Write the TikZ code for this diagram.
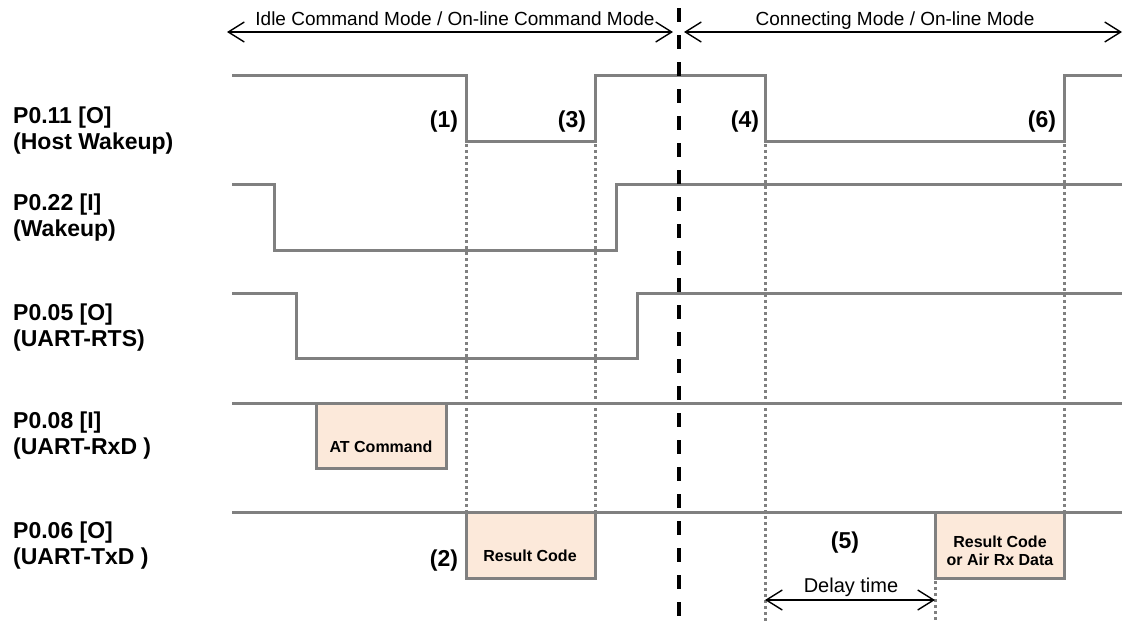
\documentclass[tikz,border=0pt]{standalone}
\usepackage{fontspec}
\setmainfont{Liberation Sans}
\usetikzlibrary{arrows.meta}
\definecolor{sig}{RGB}{128,128,128}
\definecolor{peach}{RGB}{252,233,218}
\tikzset{vbarb/.tip={Straight Barb[length=16pt,width=20pt]}}
\begin{document}
\begin{tikzpicture}[x=1pt,y=-1pt,
  sigline/.style={draw=sig,line width=3pt,line join=miter},
  dotline/.style={draw=sig,line width=3pt,dash pattern=on 3pt off 3pt},
  modearrow/.style={draw=black,line width=1.4pt,{vbarb}-{vbarb}},
  pinlabel/.style={font=\fontsize{23}{27}\selectfont\bfseries,anchor=base west,inner sep=0pt},
  evtlabel/.style={font=\fontsize{23}{27}\selectfont\bfseries,anchor=base,inner sep=0pt},
  databox/.style={draw=sig,fill=peach,line width=3pt},
  boxtext/.style={font=\fontsize{16}{18}\selectfont\bfseries,anchor=base,inner sep=0pt},
  modetext/.style={font=\fontsize{19}{22}\selectfont,anchor=base,inner sep=0pt},
  divider/.style={draw=black,line width=3.5pt,dash pattern=on 14pt off 13pt}]
\useasboundingbox (0,0) rectangle (1125,622);

% mode arrows
\coordinate (m1a) at (227,32);
\coordinate (m1b) at (673,32);
\coordinate (m2a) at (684,32);
\coordinate (m2b) at (1122,32);
\draw[modearrow] (m1a) -- (m1b);
\draw[modearrow] (m2a) -- (m2b);
\node[modetext] (mt1) at (455,25) {Idle Command Mode / On-line Command Mode};
\node[modetext] (mt2) at (895,25) {Connecting Mode / On-line Mode};

% pin labels
\node[pinlabel] (p1a) at (13,123) {P0.11 [O]};
\node[pinlabel] (p1b) at (13,149) {(Host Wakeup)};
\node[pinlabel] (p2a) at (13,210) {P0.22 [I]};
\node[pinlabel] (p2b) at (13,236) {(Wakeup)};
\node[pinlabel] (p3a) at (13,320) {P0.05 [O]};
\node[pinlabel] (p3b) at (13,346) {(UART-RTS)};
\node[pinlabel] (p4a) at (13,428) {P0.08 [I]};
\node[pinlabel] (p4b) at (13,454) {(UART-RxD )};
\node[pinlabel] (p5a) at (13,538) {P0.06 [O]};
\node[pinlabel] (p5b) at (13,564) {(UART-TxD )};

% dotted guide lines
\draw[dotline] (466,144) -- (466,511);
\draw[dotline] (595,144) -- (595,511);
\draw[dotline] (765,144) -- (765,622);
\draw[dotline] (1064,144) -- (1064,511);
\draw[dotline] (935,581) -- (935,622);

% signals
\draw[sigline] (232,75) -- (466,75) -- (466,141) -- (595,141) -- (595,75) -- (765,75) -- (765,141) -- (1064,141) -- (1064,75) -- (1122,75);
\draw[sigline] (232,184) -- (274,184) -- (274,250) -- (616,250) -- (616,184) -- (1122,184);
\draw[sigline] (232,293) -- (296,293) -- (296,358) -- (637,358) -- (637,293) -- (1122,293);
\draw[sigline] (232,403) -- (1122,403);
\draw[sigline] (232,512) -- (1122,512);

% data boxes
\draw[databox] (316,403) rectangle (446,468);
\node[boxtext] (at1) at (381,452) {AT Command};
\draw[databox] (466,512) rectangle (595,578);
\node[boxtext] (rc1) at (530,561) {Result Code};
\draw[databox] (935,512) rectangle (1064,578);
\node[boxtext] (rc2) at (1000,547) {Result Code};
\node[boxtext] (rc3) at (1000,565) {or Air Rx Data};

% event labels
\node[evtlabel] (e1) at (444,127) {(1)};
\node[evtlabel] (e3) at (572,127) {(3)};
\node[evtlabel] (e4) at (745,127) {(4)};
\node[evtlabel] (e6) at (1042,127) {(6)};
\node[evtlabel] (e2) at (444,566) {(2)};
\node[evtlabel] (e5) at (845,548) {(5)};

% delay
\coordinate (d1) at (765,600);
\coordinate (d2) at (935,600);
\draw[modearrow] (d1) -- (d2);
\node[modetext,font=\fontsize{20}{22}\selectfont] (dt) at (851,592) {Delay time};

% divider
\coordinate (v1) at (679,8);
\coordinate (v2) at (679,622);
\draw[divider] (v1) -- (v2);
\end{tikzpicture}
\end{document}
